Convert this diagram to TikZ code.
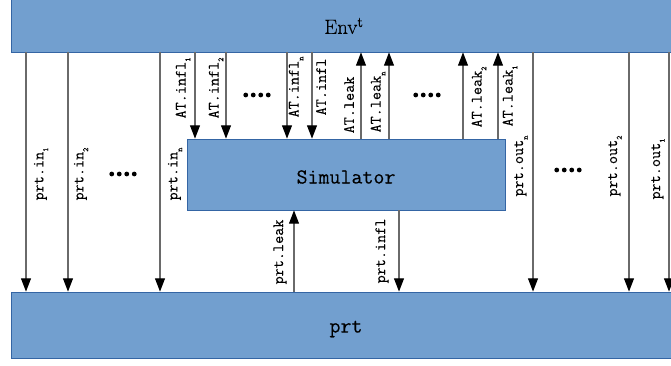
\documentclass[tikz,border=0pt]{standalone}
\usepackage{fontspec}
\newfontfamily\cmono{Latin Modern Mono}[FakeBold=0.3]
\newfontfamily\cserif{Latin Modern Roman}[FakeBold=0.2]
\usetikzlibrary{arrows.meta,fit}
\definecolor{boxblue}{HTML}{729FCF}
\definecolor{boxedge}{HTML}{3465A4}
\definecolor{linegray}{HTML}{6A6A6A}
\newcommand{\lsub}[1]{\raisebox{-0.3em}{\fontsize{6pt}{6pt}\selectfont #1}}
\begin{document}
\begin{tikzpicture}[x=0.75pt,y=-0.75pt,
  box/.style={draw=boxedge, line width=0.6pt, fill=boxblue, inner sep=0pt},
  arr/.style={draw=linegray, line width=0.85pt, -{Triangle[width=7.5pt,length=10pt,color=black]}},
  lab/.style={rotate=90, inner sep=0pt, font=\cmono\fontsize{11.8pt}{13pt}\selectfont},
  big/.style={inner sep=0pt, font=\cmono\fontsize{16pt}{18pt}\selectfont}]
\clip (0,0) rectangle (671,366);
\fill[white] (0,0) rectangle (671,366);
% boxes
\node[box, fit={(11,-5) (690,52)}] (env) {};
\node[box, fit={(187,139) (505,210)}] (sim) {};
\node[box, fit={(11,292) (690,358)}] (prt) {};
\node[inner sep=0pt, font=\cserif\fontsize{15.5pt}{17pt}\selectfont] (envt) at (344,26) {Env\textsuperscript{t}};
\node[big] (simt) at (346,177) {Simulator};
\node[big] (prtt) at (346,329) {prt};
% x positions
\coordinate (xin1) at (26,0);
\coordinate (xin2) at (68,0);
\coordinate (xinn) at (160,0);
\coordinate (xai1) at (195,0);
\coordinate (xai2) at (226,0);
\coordinate (xain) at (287,0);
\coordinate (xai) at (312,0);
\coordinate (xal) at (361,0);
\coordinate (xaln) at (389,0);
\coordinate (xal2) at (463,0);
\coordinate (xal1) at (498,0);
\coordinate (xoutn) at (533,0);
\coordinate (xout2) at (629,0);
\coordinate (xout1) at (669,0);
\coordinate (xpl) at (294,0);
\coordinate (xpi) at (399,0);
% connectors
\draw[arr] (env.south -| xin1) -- (prt.north -| xin1);
\draw[arr] (env.south -| xin2) -- (prt.north -| xin2);
\draw[arr] (env.south -| xinn) -- (prt.north -| xinn);
\draw[arr] (env.south -| xai1) -- (sim.north -| xai1);
\draw[arr] (env.south -| xai2) -- (sim.north -| xai2);
\draw[arr] (env.south -| xain) -- (sim.north -| xain);
\draw[arr] (env.south -| xai) -- (sim.north -| xai);
\draw[arr] (sim.north -| xal) -- (env.south -| xal);
\draw[arr] (sim.north -| xaln) -- (env.south -| xaln);
\draw[arr] (sim.north -| xal2) -- (env.south -| xal2);
\draw[arr] (sim.north -| xal1) -- (env.south -| xal1);
\draw[arr] (env.south -| xoutn) -- (prt.north -| xoutn);
\draw[arr] (env.south -| xout2) -- (prt.north -| xout2);
\draw[arr] (env.south -| xout1) -- (prt.north -| xout1);
\draw[arr] (prt.north -| xpl) -- (sim.south -| xpl);
\draw[arr] (sim.south -| xpi) -- (prt.north -| xpi);
% labels
\node[lab] (lin1) at (41,174) {prt.in\lsub{1}};
\node[lab] (lin2) at (81,174) {prt.in\lsub{2}};
\node[lab] (linn) at (175,174) {prt.in\lsub{n}};
\node[lab] (lai1) at (183,88) {AT.infl\lsub{1}};
\node[lab] (lai2) at (216,88) {AT.infl\lsub{2}};
\node[lab] (lain) at (296,87) {AT.infl\lsub{n}};
\node[lab] (lai) at (321,87) {AT.infl};
\node[lab] (lal) at (349,105) {AT.leak};
\node[lab] (laln) at (378,102) {AT.leak\lsub{n}};
\node[lab] (lal2) at (479,97) {AT.leak\lsub{2}};
\node[lab] (lal1) at (510,96) {AT.leak\lsub{1}};
\node[lab] (loutn) at (521,166) {prt.out\lsub{n}};
\node[lab] (lout2) at (615,166) {prt.out\lsub{2}};
\node[lab] (lout1) at (658,169) {prt.out\lsub{1}};
\node[lab] (lpl) at (280,252) {prt.leak};
\node[lab] (lpi) at (382,251) {prt.infl};
% dots
\foreach \cx/\cy in {123/174, 257/95, 427/95, 568/170}{
  \foreach \d in {-11.25,-3.75,3.75,11.25}{
    \fill[black] (\cx+\d,\cy) circle[radius=1.8pt];
  }
}
\end{tikzpicture}
\end{document}
